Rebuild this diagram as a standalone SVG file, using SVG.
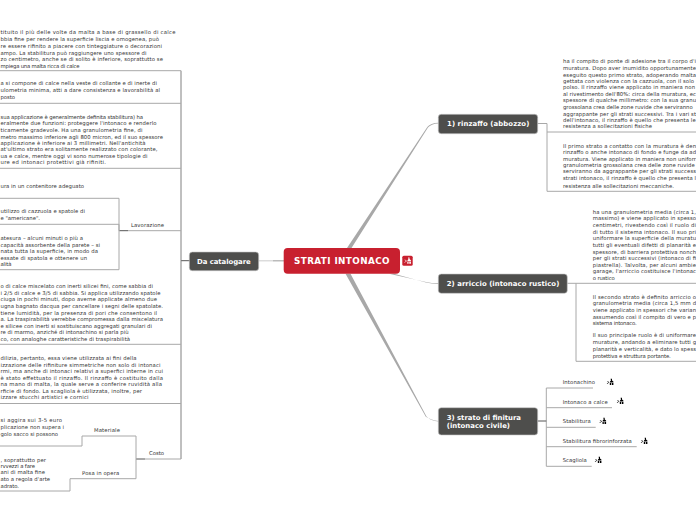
<svg xmlns="http://www.w3.org/2000/svg" width="696" height="520" viewBox="0 0 696 520">
<style>
text{font-family:"DejaVu Sans",Verdana,sans-serif}
.t{font-size:5.3px;fill:#333}
.l{font-size:5.3px;fill:#333}
.n{font-weight:bold;fill:#fff;font-size:6.9px}
.w{fill:none;stroke:#a8a8a8;stroke-width:1}
.v{fill:none;stroke:#808080;stroke-width:1}
.d{fill:none;stroke:#555;stroke-width:1}
.b{fill:#4e4e4c;stroke:#c8c8c8;stroke-width:.6}
.k{fill:#a8a8a8}
</style>
<defs>
<g id="ic"><path d="M-3.2 1.6 L-1.3 0.3 L-3 -0.8 L-2.6 -1.1 L-0.5 0.3 L-2.9 2 Z"/><path d="M0.6 -3.2 L2 -3.2 L2 -1.6 L3.4 -0.4 L3.4 0.6 L0 0.6 L0 -0.4 L1 -1.6 Z M-0.2 1 L1.1 1 L1.1 3 L-0.2 3 Z M1.8 1 L3.4 1 L3.4 3 L1.8 3 Z"/></g>
</defs>
<g id="connectors">
<path class="k" d="M347 248 L351.5 248 L428 127.5 Q431 123.6 438.5 123.4 V122.8 Q430.5 123 427.3 127 Z"/>
<path class="k" d="M389 273.7 L394 273.7 L426 282.6 Q432 284 438.5 283.9 V283.3 Q432 283.4 426 282 Z"/>
<path class="k" d="M345.5 273.7 L350.5 273.7 L426.5 416.5 Q431 421 438.5 421.5 V420.9 Q431.3 420.4 425.8 416.8 Z"/>
<path fill="none" stroke="#d4d4d4" stroke-width="1.2" d="M258.5 260.8 H273"/>
<path fill="none" stroke="#aaa" stroke-width="1.2" d="M273 260.8 H284"/>
<path class="d" d="M181 260.7 H190 M119 230.7 H128 M136 459 H145"/>
<path class="v" d="M181 70.7 V459"/>
<path class="w" d="M0 70.7 H181 M0 103.3 H181 M0 168.3 H181 M0 344.3 H181 M0 403.5 H181 M181 459 H145 M128 230.7 H181 M0 198.3 H119 V269.7 H0 M0 224.3 H119 V230.7 M136 436 V478.7 H70 V491 H0 M136 436 H82 V446 H0"/>
<path class="w" d="M537.7 123.5 H547 V191.3 H696 M547 132 H696 M576 283.3 V361.3 H696 M576 283.3 H696"/>
<path class="w" stroke-width="2" d="M567.3 283.3 H576"/>
<path class="w" d="M546.3 388 V466.3 M546.3 388 H593 M546.3 407.7 H612 M546.3 427.3 H595.7 M546.3 446.7 H636.7 M546.3 466.3 H591.7"/>
<path class="d" d="M537.7 421 H546.3"/>
</g>
<g id="node-central">
<rect x="283.7" y="248" width="116.3" height="25.7" rx="4" fill="#c8202f"/>
<text x="294" y="264.2" font-weight="bold" font-size="8.8" fill="#fff" textLength="95.5">STRATI INTONACO</text>
<rect x="402.3" y="255.7" width="10.4" height="10" rx="1.5" fill="#c8202f"/>
<use href="#ic" x="407.5" y="260.7" fill="#fff"/>
</g>
<g id="node-catalogare">
<rect class="b" x="189.3" y="252" width="69.4" height="18.7" rx="3"/>
<text class="n" x="197" y="263.6" textLength="53.7">Da catalogare</text>
</g>
<g id="node-rinzaffo">
<rect class="b" x="438.3" y="114.3" width="99.4" height="19.4" rx="3"/>
<text class="n" x="447" y="126.4" textLength="82.3">1) rinzaffo (abbozzo)</text>
</g>
<g id="node-arriccio">
<rect class="b" x="438.3" y="274" width="129" height="19.3" rx="3"/>
<text class="n" x="446.7" y="286" textLength="112.6">2) arriccio (intonaco rustico)</text>
</g>
<g id="node-finitura">
<rect class="b" x="438.3" y="407.7" width="99.4" height="27.3" rx="3"/>
<text class="n" x="446.7" y="420.2" textLength="74.3">3) strato di finitura</text>
<text class="n" x="446.7" y="428.4" textLength="63.3">(intonaco civile)</text>
</g>
<g id="left-texts">
<text class="t" x="0.5" y="33.5" textLength="175">tituito il più delle volte da malta a base di grassello di calce</text>
<text class="t" x="0.5" y="40.5" textLength="158.5">bbia fine per rendere la superficie liscia e omogenea, può</text>
<text class="t" x="0.5" y="47.5" textLength="161.5">re essere rifinito a piacere con tinteggiature o decorazioni</text>
<text class="t" x="0.5" y="54.5" textLength="146">ampo. La stabilitura può raggiungere uno spessore di</text>
<text class="t" x="0.5" y="61" textLength="162.5">zo centimetro, anche se di solito è inferiore, soprattutto se</text>
<text class="t" x="0.5" y="68" textLength="79">mpiega una malta ricca di calce</text>
<text class="t" x="0.5" y="85.3" textLength="156.5">a si compone di calce nella veste di collante e di inerte di</text>
<text class="t" x="0.5" y="92.3" textLength="159.5">ulometria minima, atti a dare consistenza e lavorabilità al</text>
<text class="t" x="0.5" y="99" textLength="14.5">posto</text>
<text class="t" x="0.5" y="119" textLength="142.5">sua applicazione è generalmente definita stabilitura) ha</text>
<text class="t" x="0.5" y="125.2" textLength="156">eralmente due funzioni: proteggere l'intonaco e renderlo</text>
<text class="t" x="0.5" y="131.8" textLength="142">ticamente gradevole. Ha una granulometria fine, di</text>
<text class="t" x="0.5" y="138.5" textLength="162.5">metro massimo inferiore agli 800 micron, ed il suo spessore</text>
<text class="t" x="0.5" y="145" textLength="145">applicazione è inferiore ai 3 millimetri. Nell'antichità</text>
<text class="t" x="0.5" y="151.2" textLength="157">at'ultimo strato era solitamente realizzato con colorante,</text>
<text class="t" x="0.5" y="157.8" textLength="147">ua e calce, mentre oggi vi sono numerose tipologie di</text>
<text class="t" x="0.5" y="163.6" textLength="105.5">ure ed intonaci protettivi già rifiniti.</text>
<text class="t" x="0.5" y="187.8" textLength="83.5">ura in un contenitore adeguato</text>
<text class="t" x="0.5" y="213.3" textLength="84.5">utilizzo di cazzuola e spatole di</text>
<text class="t" x="0.5" y="220" textLength="39.5">e "americane".</text>
<text class="t" x="0.5" y="239.5" textLength="82.5">atesura – alcuni minuti o più a</text>
<text class="t" x="0.5" y="246.5" textLength="99.5">capacità assorbente della parete – si</text>
<text class="t" x="0.5" y="252.5" textLength="97.5">nata tutta la superficie, in modo da</text>
<text class="t" x="0.5" y="259.5" textLength="86.5">essate di spatola e ottenere un</text>
<text class="t" x="0.5" y="266" textLength="11">alità</text>
<text class="l" x="131" y="226.7" textLength="33">Lavorazione</text>
<text class="t" x="0.5" y="288" textLength="152.5">o di calce miscelato con inerti silicei fini, come sabbia di</text>
<text class="t" x="0.5" y="295" textLength="160">i 2/5 di calce e 3/5 di sabbia. Si applica utilizzando spatole</text>
<text class="t" x="0.5" y="301.2" textLength="156.5">ciuga in pochi minuti, dopo averne applicate almeno due</text>
<text class="t" x="0.5" y="308" textLength="162.5">ugna bagnato dacqua per cancellare i segni delle spatolate.</text>
<text class="t" x="0.5" y="314.5" textLength="156.5">tiene lumidità, per la presenza di pori che consentono il</text>
<text class="t" x="0.5" y="321" textLength="162.5">a. La traspirabilità verrebbe compromessa dalla miscelatura</text>
<text class="t" x="0.5" y="328" textLength="151.5">e silicee con inerti si sostituiscano aggregati granulari di</text>
<text class="t" x="0.5" y="334" textLength="128">re di marmo, anziché di intonachino si parla più</text>
<text class="t" x="0.5" y="340.8" textLength="129.5">co, con analoghe caratteristiche di traspirabilità</text>
<text class="t" x="0.5" y="360" textLength="136">dilizia, pertanto, essa viene utilizzata ai fini della</text>
<text class="t" x="0.5" y="366.8" textLength="160">izzazione delle rifiniture simmetriche non solo di intonaci</text>
<text class="t" x="0.5" y="373" textLength="162.5">rmi, ma anche di intonaci relativi a superfici interne in cui</text>
<text class="t" x="0.5" y="379.5" textLength="162.5">è stato effettuato il rinzaffo. Il rinzaffo è costituito dalla</text>
<text class="t" x="0.5" y="386" textLength="161.5">na mano di malta, la quale serve a conferire ruvidità alla</text>
<text class="t" x="0.5" y="392.5" textLength="141.5">rficie di fondo. La scagliola è utilizzata, inoltre, per</text>
<text class="t" x="0.5" y="399" textLength="88">izzare stucchi artistici e cornici</text>
<text class="t" x="0.5" y="422.4" textLength="61.5">si aggira sui 3-5 euro</text>
<text class="t" x="0.5" y="429" textLength="63.5">plicazione non supera i</text>
<text class="t" x="0.5" y="435.7" textLength="57.5">golo sacco si possono</text>
<text class="l" x="94" y="431.7" textLength="26">Materiale</text>
<text class="l" x="149" y="454.7" textLength="15">Costo</text>
<text class="t" x="0.5" y="461.7" textLength="45.5">, soprattutto per</text>
<text class="t" x="0.5" y="468.4" textLength="34.5">rvvezzi a fare</text>
<text class="t" x="0.5" y="474.4" textLength="44.5">ani di malta fine</text>
<text class="t" x="0.5" y="481" textLength="49.5">ato a regola d'arte</text>
<text class="t" x="0.5" y="487.7" textLength="18.5">adrato.</text>
<text class="l" x="82" y="475" textLength="37.3">Posa in opera</text>
</g>
<g id="right-texts">
<text class="t" x="563" y="63.4" textLength="133">ha il compito di ponte di adesione tra il corpo d'i</text>
<text class="t" x="563" y="70" textLength="133">muratura. Dopo aver inumidito opportunamente</text>
<text class="t" x="563" y="76.7" textLength="133">eseguito questo primo strato, adoperando malta</text>
<text class="t" x="563" y="82.7" textLength="131">gettata con violenza con la cazzuola, con il solo</text>
<text class="t" x="563" y="89" textLength="132">polso. Il rinzaffo viene applicato in maniera non</text>
<text class="t" x="563" y="95.7" textLength="133">al rivestimento dell'80%: circa della muratura, ec</text>
<text class="t" x="563" y="102.4" textLength="133">spessore di qualche millimetro: con la sua granu</text>
<text class="t" x="563" y="109" textLength="129.7">grossolana crea delle zone ruvide che serviranno</text>
<text class="t" x="563" y="115.7" textLength="133">aggrappante per gli strati successivi. Tra i vari st</text>
<text class="t" x="563" y="122.4" textLength="132.7">dell'intonaco, il rinzaffo è quello che presenta le</text>
<text class="t" x="563" y="128.4" textLength="89">resistenza a sollecitazioni fisiche</text>
<text class="t" x="563" y="147.7" textLength="133">Il primo strato a contatto con la muratura è den</text>
<text class="t" x="563" y="154.4" textLength="133">rinzaffo o anche intonaco di fondo e funge da ad</text>
<text class="t" x="563" y="160.7" textLength="133">muratura. Viene applicato in maniera non uniforr</text>
<text class="t" x="563" y="166.7" textLength="131.7">granulometria grossolana crea delle zone ruvide</text>
<text class="t" x="563" y="173.4" textLength="133">serviranno da aggrappante per gli strati success</text>
<text class="t" x="563" y="180" textLength="133">strati intonaco, il rinzaffo è quello che presenta l</text>
<text class="t" x="563" y="187.7" textLength="111">resistenza alle sollecitazioni meccaniche.</text>
<text class="t" x="592.7" y="213.6" textLength="103.3">ha una granulometria media (circa 1,</text>
<text class="t" x="592.7" y="220.3" textLength="103.3">massimo) e viene applicato in spesso</text>
<text class="t" x="592.7" y="226.9" textLength="103.3">centimetri, rivestendo così il ruolo di</text>
<text class="t" x="592.7" y="233.6" textLength="103.3">di tutto il sistema intonaco. Il suo pri</text>
<text class="t" x="592.7" y="240.2" textLength="103.3">uniformare la superficie della muratu</text>
<text class="t" x="592.7" y="246.8" textLength="103.3">tutti gli eventuali difetti di planarità e</text>
<text class="t" x="592.7" y="253.5" textLength="103.3">spessore, di barriera protettiva nonch</text>
<text class="t" x="592.7" y="260.1" textLength="103.3">per gli strati successivi (intonaco di fi</text>
<text class="t" x="592.7" y="266.8" textLength="103.3">piastrella). Talvolta, per alcuni ambie</text>
<text class="t" x="592.7" y="273.4" textLength="103.3">garage, l'arriccio costituisce l'intonac</text>
<text class="t" x="592.7" y="280" textLength="22">o rustico</text>
<text class="t" x="592.7" y="298.5" textLength="103.3">Il secondo strato è definito arriccio o</text>
<text class="t" x="592.7" y="305.1" textLength="103.3">granulometria media (circa 1,5 mm d</text>
<text class="t" x="592.7" y="311.8" textLength="103.3">viene applicato in spessori che varian</text>
<text class="t" x="592.7" y="318.5" textLength="103.3">assumendo così il compito di vero e p</text>
<text class="t" x="592.7" y="325.1" textLength="44">sistema intonaco.</text>
<text class="t" x="592.7" y="336.8" textLength="103.3">Il suo principale ruolo è di uniformare</text>
<text class="t" x="592.7" y="344.1" textLength="103.3">murature, andando a eliminare tutti g</text>
<text class="t" x="592.7" y="350.8" textLength="103.3">planarità e verticalità, e dato lo spess</text>
<text class="t" x="592.7" y="357.5" textLength="78">protettiva e struttura portante.</text>
</g>
<g id="node-intonachino"><text class="l" x="562.7" y="383.8" textLength="32.3">Intonachino</text><use href="#ic" x="610" y="382"/></g>
<g id="node-intonaco-calce"><text class="l" x="562.7" y="403.5" textLength="45">Intonaco a calce</text><use href="#ic" x="620" y="401"/></g>
<g id="node-stabilitura"><text class="l" x="562.7" y="423" textLength="28">Stabilitura</text><use href="#ic" x="602.7" y="421"/></g>
<g id="node-stabilitura-fibro"><text class="l" x="562.7" y="442.7" textLength="69">Stabilitura fibrorinforzata</text><use href="#ic" x="644" y="441"/></g>
<g id="node-scagliola"><text class="l" x="562.7" y="461.8" textLength="24">Scagliola</text><use href="#ic" x="598" y="460"/></g>
</svg>
